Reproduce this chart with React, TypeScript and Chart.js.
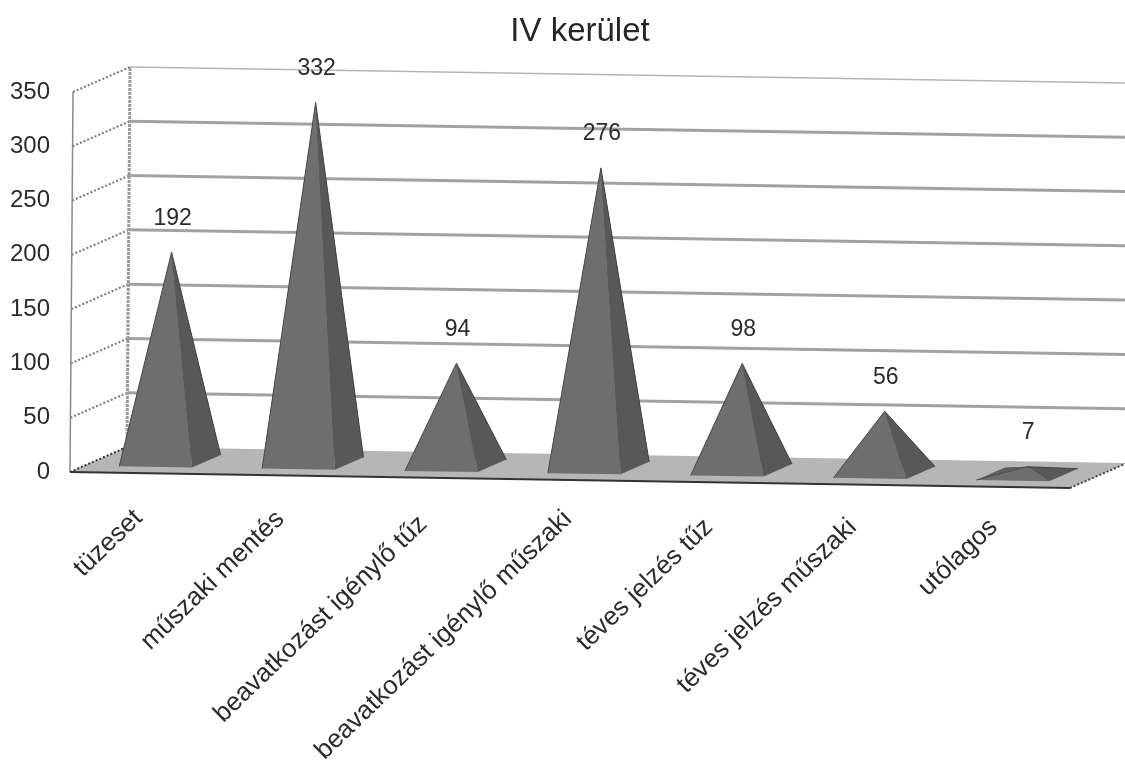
import React, { useEffect, useRef } from "react";
import { Chart, registerables } from "chart.js";

Chart.register(...registerables);

const categories = [
  "tüzeset",
  "műszaki mentés",
  "beavatkozást igénylő tűz",
  "beavatkozást igénylő műszaki",
  "téves jelzés tűz",
  "téves jelzés műszaki",
  "utólagos",
];
const values = [192, 332, 94, 276, 98, 56, 7];
const yTicks = [0, 50, 100, 150, 200, 250, 300, 350];
const chartTitle = "IV kerület";

const FONT = '"Liberation Sans", Arial, sans-serif';
const DEPTH_X = 57;
const DEPTH_Y = 25;
const FLOOR_TILT = 0.016;
const WALL_LEAN = 0.008;
// Small per-label layout offsets: the reference's rotated labels are not evenly placed.
const LABEL_NUDGE_X = [-3, -4, -4, -2, -4, -3, -5];
const LABEL_NUDGE_Y = [4, 5, 10, 5, 13, 13, 13];

function projector(chart: any) {
  const { left, bottom } = chart.chartArea;
  return (x: number, y: number, d: number): [number, number] => [
    x + d * DEPTH_X + (bottom - y) * WALL_LEAN,
    y + (x - left) * FLOOR_TILT - d * DEPTH_Y,
  ];
}

function poly(ctx: CanvasRenderingContext2D, pts: [number, number][], fill: string) {
  ctx.beginPath();
  pts.forEach((p, i) => (i ? ctx.lineTo(p[0], p[1]) : ctx.moveTo(p[0], p[1])));
  ctx.closePath();
  ctx.fillStyle = fill;
  ctx.fill();
}

function segment(
  ctx: CanvasRenderingContext2D,
  a: [number, number],
  b: [number, number],
  color: string,
  width: number,
  dash: number[] = []
) {
  ctx.beginPath();
  ctx.setLineDash(dash);
  ctx.moveTo(a[0], a[1]);
  ctx.lineTo(b[0], b[1]);
  ctx.strokeStyle = color;
  ctx.lineWidth = width;
  ctx.stroke();
  ctx.setLineDash([]);
}

const scene3d = {
  id: "scene3d",
  afterLayout(chart: any) {
    // The title sits a little right of the canvas centre in the reference.
    if (chart.titleBlock) chart.titleBlock.left = 90;
  },
  beforeDraw(chart: any) {
    const items = chart.scales.x.getLabelItems(chart.chartArea);
    items.forEach((item: any, i: number) => {
      if (item.nudged) return;
      item.nudged = true;
      item.options.translation[0] += LABEL_NUDGE_X[i];
      item.options.translation[1] += LABEL_NUDGE_Y[i];
    });
  },
  beforeDatasetsDraw(chart: any) {
    const ctx: CanvasRenderingContext2D = chart.ctx;
    const p = projector(chart);
    const { left, right, bottom, top } = chart.chartArea;
    const yScale = chart.scales.y;
    ctx.save();
    poly(ctx, [p(left, bottom, 0), p(right, bottom, 0), p(right, bottom, 1), p(left, bottom, 1)], "#b6b6b6");
    yTicks.forEach((t) => {
      const y = yScale.getPixelForValue(t);
      if (t > 0) {
        segment(ctx, p(left, y, 1), p(right, y, 1), t === 350 ? "#b5b5b5" : "#a2a2a2", t === 350 ? 1.5 : 3);
      }
      segment(ctx, p(left, y, 0), p(left, y, 1), t === 0 ? "#333333" : "#777777", 2, [2, 2]);
    });
    segment(ctx, p(left, bottom, 0), p(left, top, 0), "#8a8a8a", 1.5);
    segment(ctx, p(left, bottom, 1), p(left, top, 1), "#9a9a9a", 3, [3, 1]);
    segment(ctx, p(left, bottom, 0), p(right, bottom, 0), "#333333", 2);
    segment(ctx, p(right, bottom, 0), p(right, bottom, 1), "#444444", 2, [2, 2]);
    ctx.restore();
  },
  afterDatasetsDraw(chart: any) {
    const ctx: CanvasRenderingContext2D = chart.ctx;
    const p = projector(chart);
    const bars = chart.getDatasetMeta(0).data;
    ctx.save();
    bars.forEach((bar: any, i: number) => {
      const half = bar.width / 2;
      const base = bar.base;
      const fl = p(bar.x - half, base, 0.25);
      const fr = p(bar.x + half, base, 0.25);
      const br = p(bar.x + half, base, 0.75);
      const bl = p(bar.x - half, base, 0.75);
      const apex = p(bar.x, bar.y, 0.5);
      poly(ctx, [bl, br, apex], "#525252");
      poly(ctx, [fl, bl, apex], "#5c5c5c");
      poly(ctx, [fl, fr, apex], "#6e6e6e");
      poly(ctx, [fr, br, apex], "#585858");
      segment(ctx, fl, apex, "#4a4a4a", 1);
      segment(ctx, br, apex, "#444444", 1);
      ctx.font = `23px ${FONT}`;
      ctx.fillStyle = "#2b2b2b";
      ctx.textAlign = "center";
      ctx.textBaseline = "middle";
      ctx.fillText(String(values[i]), apex[0] + 1, apex[1] - 34);
    });
    ctx.restore();
  },
};

export default function App() {
  const ref = useRef<HTMLCanvasElement>(null);
  useEffect(() => {
    const chart = new Chart(ref.current!, {
      type: "bar",
      data: {
        labels: categories,
        datasets: [
          {
            data: values,
            backgroundColor: "rgba(0,0,0,0)",
            borderWidth: 0,
            barPercentage: 0.51,
            categoryPercentage: 1,
          },
        ],
      },
      options: {
        responsive: false,
        devicePixelRatio: 1,
        animation: false,
        layout: { padding: { left: 0, right: 55, top: 0, bottom: 0 } },
        plugins: {
          legend: { display: false },
          tooltip: { enabled: false },
          title: {
            display: true,
            text: chartTitle,
            color: "#262626",
            font: { family: FONT, size: 33, weight: "normal", lineHeight: 1.2 },
            padding: { top: 12.5, bottom: 39.9 },
          },
        },
        scales: {
          x: {
            grid: { display: false, drawTicks: false },
            border: { display: false },
            ticks: {
              autoSkip: false,
              minRotation: 44,
              maxRotation: 44,
              padding: 27,
              color: "#2b2b2b",
              font: { family: FONT, size: 26 },
            },
            afterFit: (s: any) => {
              s.height = 290;
              s.paddingLeft = 0;
              s.paddingRight = 0;
            },
          },
          y: {
            min: 0,
            max: 350,
            grid: { display: false, drawTicks: false },
            border: { display: false },
            ticks: {
              stepSize: 50,
              padding: 20,
              color: "#2b2b2b",
              font: { family: FONT, size: 24 },
            },
            afterFit: (s: any) => {
              s.width = 70;
            },
          },
        },
      },
      plugins: [scene3d],
    } as any);
    return () => chart.destroy();
  }, []);
  return (
    <div style={{ position: "absolute", left: 0, top: 0, width: 1125, height: 762, background: "#ffffff" }}>
      <canvas ref={ref} width={1125} height={762} style={{ display: "block" }} />
    </div>
  );
}
